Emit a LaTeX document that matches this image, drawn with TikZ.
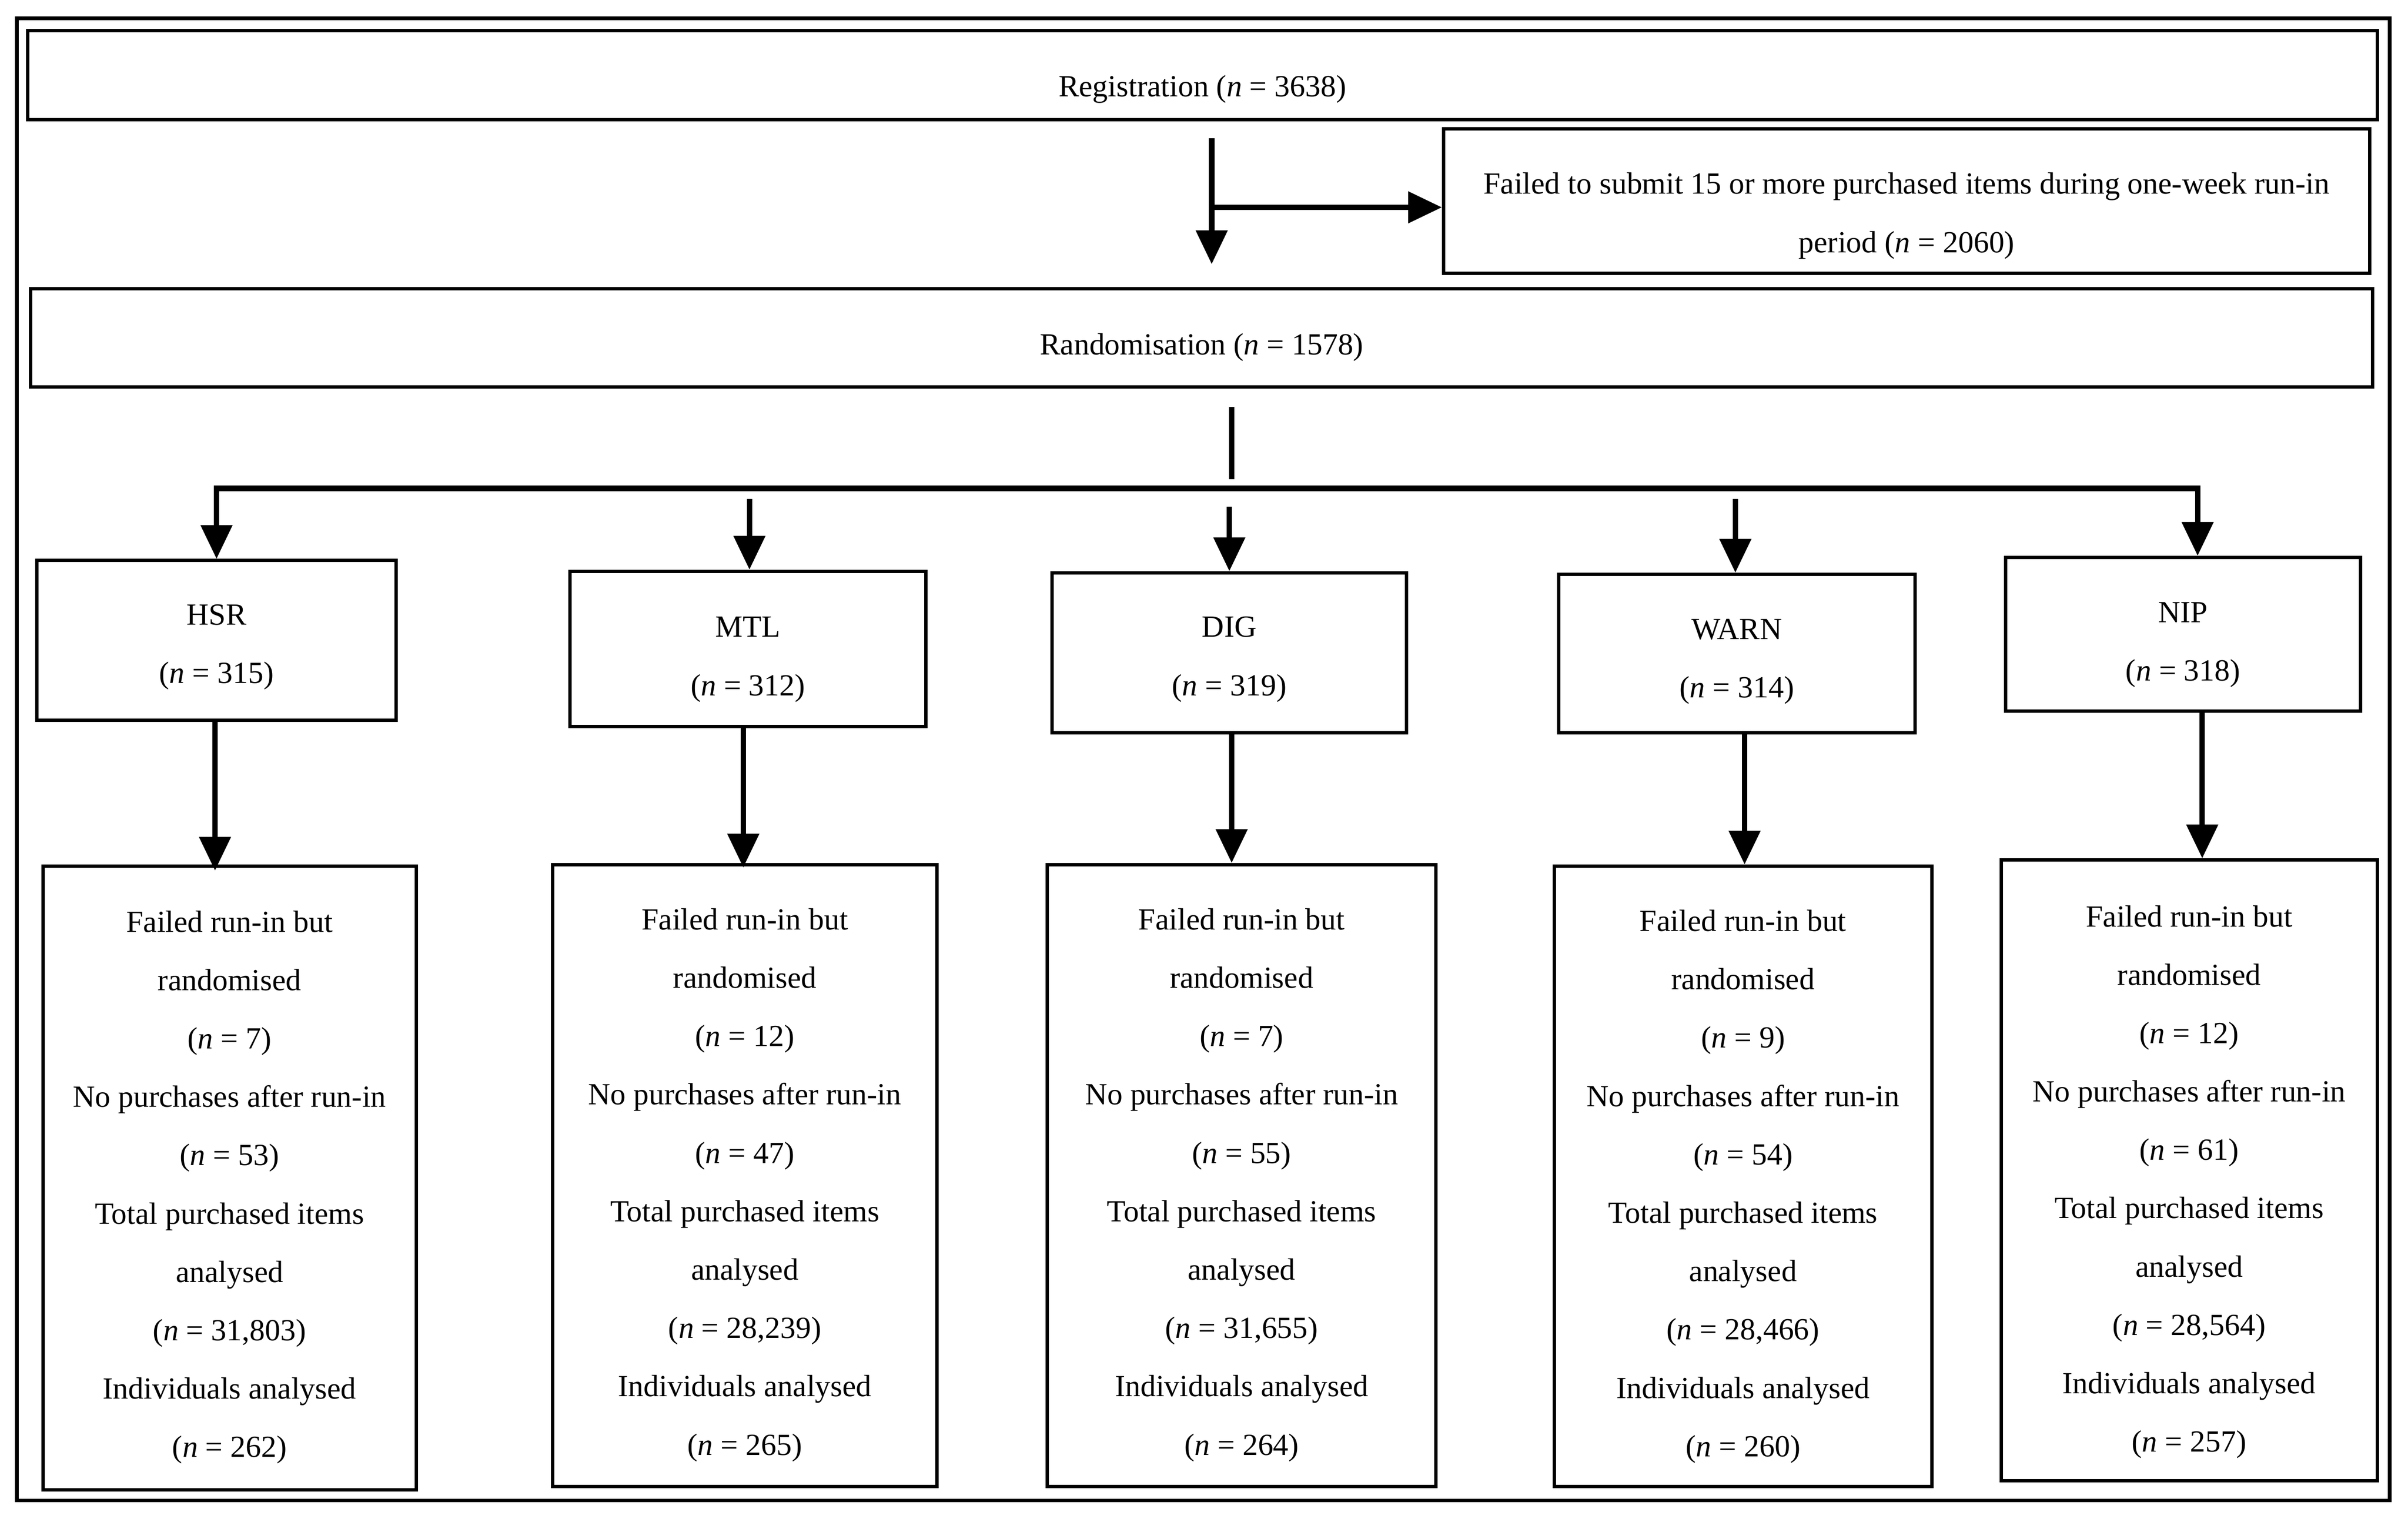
\documentclass[tikz,border=0pt]{standalone}
\usepackage{fontspec}
\setmainfont{Liberation Serif}
\usetikzlibrary{arrows.meta}
\newcommand\upx[1]{\rule{0pt}{#1}}
\begin{document}
\begin{tikzpicture}[x=1pt,y=-1pt,
  box/.style={draw, line width=2.2pt, align=center, inner sep=0pt,
    font=\fontsize{20}{38}\selectfont},
  conn/.style={line width=3.5pt},
  arr/.style={conn, -{Triangle[length=22pt,width=20pt]}},
  frame/.style={draw, line width=2.4pt, inner sep=0pt}
]
\useasboundingbox (0,0) rectangle (1568,988.8);
\node[frame, minimum width=1545pt, minimum height=965pt] (outer) at (783.5,494.5) {};

% top part
\node[box, minimum width=1530pt, minimum height=58pt] (reg) at (783,49)
  {\upx{32pt}Registration (\textit{n} = 3638)};
\node[box, minimum width=603pt, minimum height=94pt] (fail) at (1241.5,131)
  {\upx{33pt}Failed to submit 15 or more purchased items during one-week run-in\\period (\textit{n} = 2060)};
\node[box, minimum width=1525pt, minimum height=64pt] (rand) at (782.5,220)
  {\upx{26pt}Randomisation (\textit{n} = 1578)};

% arms
\node[box, minimum width=234pt, minimum height=104pt] (hsr) at (141,417)
  {\upx{22pt}HSR\\(\textit{n} = 315)};
\node[box, minimum width=232pt, minimum height=101pt] (mtl) at (487,422.5)
  {\upx{27pt}MTL\\(\textit{n} = 312)};
\node[box, minimum width=231pt, minimum height=104pt] (dig) at (800.5,425)
  {\upx{22pt}DIG\\(\textit{n} = 319)};
\node[box, minimum width=232pt, minimum height=103pt] (warn) at (1131,425.5)
  {\upx{24pt}WARN\\(\textit{n} = 314)};
\node[box, minimum width=231pt, minimum height=100pt] (nip) at (1421.5,413)
  {\upx{27pt}NIP\\(\textit{n} = 318)};

% outcome boxes
\node[box, minimum width=243pt, minimum height=406pt] (bhsr) at (149.5,767)
  {\upx{26pt}Failed run-in but\\randomised\\(\textit{n} = 7)\\No purchases after run-in\\(\textit{n} = 53)\\Total purchased items\\analysed\\(\textit{n} = 31,803)\\Individuals analysed\\(\textit{n} = 262)};
\node[box, minimum width=250pt, minimum height=405pt] (bmtl) at (485,765.5)
  {\upx{26pt}Failed run-in but\\randomised\\(\textit{n} = 12)\\No purchases after run-in\\(\textit{n} = 47)\\Total purchased items\\analysed\\(\textit{n} = 28,239)\\Individuals analysed\\(\textit{n} = 265)};
\node[box, minimum width=253pt, minimum height=405pt] (bdig) at (808.5,765.5)
  {\upx{26pt}Failed run-in but\\randomised\\(\textit{n} = 7)\\No purchases after run-in\\(\textit{n} = 55)\\Total purchased items\\analysed\\(\textit{n} = 31,655)\\Individuals analysed\\(\textit{n} = 264)};
\node[box, minimum width=246pt, minimum height=404pt] (bwarn) at (1135,766)
  {\upx{27pt}Failed run-in but\\randomised\\(\textit{n} = 9)\\No purchases after run-in\\(\textit{n} = 54)\\Total purchased items\\analysed\\(\textit{n} = 28,466)\\Individuals analysed\\(\textit{n} = 260)};
\node[box, minimum width=245pt, minimum height=404pt] (bnip) at (1425.5,762)
  {\upx{29pt}Failed run-in but\\randomised\\(\textit{n} = 12)\\No purchases after run-in\\(\textit{n} = 61)\\Total purchased items\\analysed\\(\textit{n} = 28,564)\\Individuals analysed\\(\textit{n} = 257)};

% coordinates for connector columns
\coordinate (r1) at (789,90);
\coordinate (r2) at (789,172);
\coordinate (r3) at (789,135);
\coordinate (q1) at (802,265);
\coordinate (q2) at (802,312);
\coordinate (dmid) at (802,318);
\coordinate (xnip) at (1431,0);
\coordinate (amtl) at (488,325);
\coordinate (adig) at (800.5,330);
\coordinate (awarn) at (1130,325);
\coordinate (xa) at (140,0);
\coordinate (xb) at (484,0);
\coordinate (xc) at (802,0);
\coordinate (xd) at (1136,0);
\coordinate (xe) at (1434,0);

% connectors
\draw[arr] (r1) -- (r2);
\draw[arr] (r3) -- (r3 -| fail.west);
\draw[conn] (q1) -- (q2);
\draw[arr] (dmid) -| (hsr.north);
\draw[arr] (dmid) -| (nip.north -| xnip);
\draw[arr] (amtl) -- (amtl |- mtl.north);
\draw[arr] (adig) -- (adig |- dig.north);
\draw[arr] (awarn) -- (awarn |- warn.north);

\draw[arr] (hsr.south -| xa) -- ([yshift=-4pt]bhsr.north -| xa);
\draw[arr] (mtl.south -| xb) -- ([yshift=-3pt]bmtl.north -| xb);
\draw[arr] (dig.south -| xc) -- (bdig.north -| xc);
\draw[arr] (warn.south -| xd) -- (bwarn.north -| xd);
\draw[arr] (nip.south -| xe) -- (bnip.north -| xe);
\end{tikzpicture}
\end{document}
